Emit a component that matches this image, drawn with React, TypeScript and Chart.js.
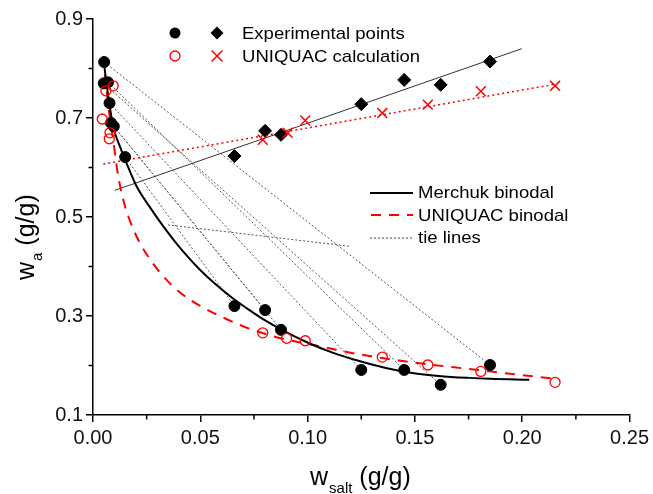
import React, { useEffect, useRef } from "react";
import { Chart, registerables } from "chart.js";
Chart.register(...registerables);

// ---- data ----
const xTickValues = [0, 0.05, 0.1, 0.15, 0.2, 0.25];
const xMinorTicks = [0.025, 0.075, 0.125, 0.175, 0.225];
const yTickValues = [0.1, 0.3, 0.5, 0.7, 0.9];
const yMinorTicks = [0.2, 0.4, 0.6, 0.8];

// experimental binodal / phase compositions (filled circles)
const expCircleX = [0.0052, 0.005, 0.007, 0.0077, 0.0084, 0.0097, 0.015, 0.0659, 0.0802, 0.0876, 0.125, 0.145, 0.162, 0.185];
const expCircleY = [0.813, 0.77, 0.772, 0.73, 0.69, 0.683, 0.621, 0.32, 0.312, 0.272, 0.191, 0.191, 0.161, 0.201];

// experimental points (diamonds)
const expDiamondX = [0.0659, 0.0802, 0.0876, 0.125, 0.145, 0.162, 0.185];
const expDiamondY = [0.623, 0.674, 0.666, 0.728, 0.777, 0.767, 0.814];

// UNIQUAC calculation (open circles)
const calcCircleX = [0.0043, 0.006, 0.0094, 0.0079, 0.0076, 0.0791, 0.0902, 0.0989, 0.1348, 0.156, 0.1807, 0.2153];
const calcCircleY = [0.698, 0.755, 0.765, 0.67, 0.658, 0.266, 0.255, 0.25, 0.217, 0.201, 0.188, 0.166];

// UNIQUAC calculation (crosses)
const calcCrossX = [0.0791, 0.0907, 0.0989, 0.1348, 0.156, 0.1807, 0.2153];
const calcCrossY = [0.656, 0.67, 0.695, 0.71, 0.727, 0.754, 0.765];

// trend lines through diamonds / crosses
const expTrendX = [0.0102, 0.1998];
const expTrendY = [0.554, 0.84];
const calcTrendX = [0.0048, 0.215];
const calcTrendY = [0.607, 0.768];

// Merchuk binodal
const merchukX = [0.005, 0.0071, 0.0094, 0.0125, 0.0156, 0.0203, 0.0265, 0.0326, 0.0381, 0.0435, 0.0497, 0.0574, 0.0651, 0.0729, 0.0806, 0.0884, 0.1007, 0.1116, 0.1224, 0.1364, 0.1487, 0.1611, 0.175, 0.1851, 0.2033];
const merchukY = [0.814, 0.744, 0.683, 0.643, 0.609, 0.562, 0.52, 0.482, 0.451, 0.423, 0.394, 0.363, 0.336, 0.312, 0.29, 0.271, 0.245, 0.226, 0.211, 0.195, 0.185, 0.179, 0.175, 0.173, 0.171];

// UNIQUAC binodal
const uniquacX = [0.0048, 0.006, 0.0079, 0.0094, 0.011, 0.0133, 0.0164, 0.0214, 0.0265, 0.0326, 0.0404, 0.0497, 0.0621, 0.0744, 0.0884, 0.1007, 0.11, 0.1162, 0.1348, 0.155, 0.175, 0.189, 0.2153];
const uniquacY = [0.825, 0.77, 0.697, 0.656, 0.603, 0.549, 0.502, 0.451, 0.415, 0.381, 0.348, 0.321, 0.294, 0.272, 0.254, 0.243, 0.235, 0.229, 0.215, 0.203, 0.193, 0.186, 0.173];

// tie lines
const tieStartX = [0.0052, 0.005, 0.007, 0.0077, 0.0084, 0.0097, 0.015, 0.035];
const tieStartY = [0.813, 0.77, 0.772, 0.73, 0.69, 0.683, 0.621, 0.484];
const tieEndX = [0.185, 0.162, 0.145, 0.125, 0.0876, 0.0802, 0.0659, 0.1193];
const tieEndY = [0.201, 0.161, 0.191, 0.191, 0.272, 0.312, 0.32, 0.441];

const FONT = "'Liberation Sans', Arial, Helvetica, sans-serif";

const pts = (xs: number[], ys: number[]) => xs.map((x, i) => ({ x, y: ys[i] }));

function stretchText(ctx: CanvasRenderingContext2D, text: string, x: number, y: number, sx: number) {
  ctx.save();
  ctx.translate(x, y);
  ctx.scale(sx, 1);
  ctx.fillText(text, 0, 0);
  ctx.restore();
  return ctx.measureText(text).width * sx;
}

const decorPlugin = {
  id: "decor",
  afterDraw(chart: any) {
    const ctx: CanvasRenderingContext2D = chart.ctx;
    const xs = chart.scales.x;
    const ys = chart.scales.y;
    ctx.save();
    // minor ticks
    ctx.strokeStyle = "#000";
    ctx.lineWidth = 1.5;
    ctx.beginPath();
    xMinorTicks.forEach((v) => {
      const px = xs.getPixelForValue(v);
      ctx.moveTo(px, ys.bottom);
      ctx.lineTo(px, ys.bottom + 4.5);
    });
    yMinorTicks.forEach((v) => {
      const py = ys.getPixelForValue(v);
      ctx.moveTo(xs.left, py);
      ctx.lineTo(xs.left - 4.5, py);
    });
    ctx.stroke();

    // axis titles
    ctx.fillStyle = "#000";
    ctx.textBaseline = "alphabetic";
    ctx.textAlign = "left";
    // x title
    let cx = 310;
    ctx.font = `25px ${FONT}`;
    cx += stretchText(ctx, "w", cx, 485, 1.0);
    ctx.font = `15px ${FONT}`;
    cx += stretchText(ctx, "salt", cx + 1, 493, 1.0) + 1;
    ctx.font = `25px ${FONT}`;
    stretchText(ctx, " (g/g)", cx, 485, 1.0);
    // y title
    ctx.save();
    ctx.translate(34, 280);
    ctx.rotate(-Math.PI / 2);
    let cy = 0;
    ctx.font = `25px ${FONT}`;
    cy += stretchText(ctx, "w", cy, 0, 1.0);
    ctx.font = `15px ${FONT}`;
    cy += stretchText(ctx, "a", cy + 1, 8, 1.0) + 1;
    ctx.font = `25px ${FONT}`;
    stretchText(ctx, " (g/g)", cy, 0, 1.0);
    ctx.restore();

    // legend 1
    const lf = `17px ${FONT}`;
    ctx.font = lf;
    ctx.textBaseline = "middle";
    // row 1
    ctx.fillStyle = "#000";
    ctx.beginPath();
    ctx.arc(175, 33, 5.5, 0, Math.PI * 2);
    ctx.fill();
    ctx.beginPath();
    ctx.moveTo(217, 33 - 6.5);
    ctx.lineTo(217 + 6.5, 33);
    ctx.lineTo(217, 33 + 6.5);
    ctx.lineTo(217 - 6.5, 33);
    ctx.closePath();
    ctx.fill();
    stretchText(ctx, "Experimental points", 242, 34, 1.09);
    // row 2
    ctx.strokeStyle = "#f00";
    ctx.lineWidth = 1.3;
    ctx.beginPath();
    ctx.arc(175, 56, 5, 0, Math.PI * 2);
    ctx.stroke();
    ctx.lineWidth = 1.5;
    ctx.beginPath();
    ctx.moveTo(217 - 5.5, 56 - 5.5);
    ctx.lineTo(217 + 5.5, 56 + 5.5);
    ctx.moveTo(217 + 5.5, 56 - 5.5);
    ctx.lineTo(217 - 5.5, 56 + 5.5);
    ctx.stroke();
    ctx.fillStyle = "#000";
    stretchText(ctx, "UNIQUAC calculation", 242, 57, 1.09);

    // legend 2
    ctx.strokeStyle = "#000";
    ctx.lineWidth = 2;
    ctx.setLineDash([]);
    ctx.beginPath();
    ctx.moveTo(370, 193);
    ctx.lineTo(413, 193);
    ctx.stroke();
    ctx.strokeStyle = "#f00";
    ctx.setLineDash([10, 8]);
    ctx.beginPath();
    ctx.moveTo(371, 215);
    ctx.lineTo(413, 215);
    ctx.stroke();
    ctx.strokeStyle = "#444";
    ctx.lineWidth = 1;
    ctx.setLineDash([2, 2]);
    ctx.beginPath();
    ctx.moveTo(370, 238);
    ctx.lineTo(413, 238);
    ctx.stroke();
    ctx.setLineDash([]);
    ctx.fillStyle = "#000";
    stretchText(ctx, "Merchuk binodal", 418, 193, 1.09);
    stretchText(ctx, "UNIQUAC binodal", 418, 216, 1.09);
    stretchText(ctx, "tie lines", 418, 238, 1.09);
    ctx.restore();
  },
};

export default function App() {
  const ref = useRef<HTMLCanvasElement | null>(null);
  useEffect(() => {
    if (!ref.current) return;
    const tieSets = tieStartX.map((_, i) => ({
      data: [
        { x: tieStartX[i], y: tieStartY[i] },
        { x: tieEndX[i], y: tieEndY[i] },
      ],
      showLine: true,
      borderColor: "#555",
      borderWidth: 1,
      borderDash: [2, 2],
      pointRadius: 0,
      order: 10,
    }));
    const chart = new Chart(ref.current, {
      type: "scatter",
      data: {
        datasets: [
          ...tieSets,
          {
            data: pts(expTrendX, expTrendY),
            showLine: true,
            borderColor: "#333",
            borderWidth: 1,
            pointRadius: 0,
            order: 8,
          },
          {
            data: pts(calcTrendX, calcTrendY),
            showLine: true,
            borderColor: "#f00",
            borderWidth: 1.5,
            borderDash: [2, 3],
            pointRadius: 0,
            order: 8,
          },
          {
            data: pts(merchukX, merchukY),
            showLine: true,
            borderColor: "#000",
            borderWidth: 2,
            pointRadius: 0,
            cubicInterpolationMode: "monotone",
            order: 6,
          },
          {
            data: pts(uniquacX, uniquacY),
            showLine: true,
            borderColor: "#f00",
            borderWidth: 2,
            borderDash: [10, 8],
            pointRadius: 0,
            cubicInterpolationMode: "monotone",
            order: 6,
          },
          {
            data: pts(expCircleX, expCircleY),
            pointStyle: "circle",
            pointRadius: 5.5,
            backgroundColor: "#000",
            borderColor: "#000",
            borderWidth: 1,
            order: 2,
          },
          {
            data: pts(expDiamondX, expDiamondY),
            pointStyle: "rectRot",
            pointRadius: 6.5,
            backgroundColor: "#000",
            borderColor: "#000",
            borderWidth: 1,
            order: 2,
          },
          {
            data: pts(calcCircleX, calcCircleY),
            pointStyle: "circle",
            pointRadius: 5,
            backgroundColor: "rgba(255,255,255,0)",
            borderColor: "#f00",
            borderWidth: 1.3,
            order: 1,
          },
          {
            data: pts(calcCrossX, calcCrossY),
            pointStyle: "crossRot",
            pointRadius: 7,
            borderColor: "#f00",
            borderWidth: 1.5,
            order: 1,
          },
        ] as any,
      },
      options: {
        responsive: false,
        animation: false,
        devicePixelRatio: 1,
        layout: { padding: { top: 19, right: 21, left: 0, bottom: 0 } },
        plugins: { legend: { display: false }, tooltip: { enabled: false } },
        scales: {
          x: {
            type: "linear",
            min: 0,
            max: 0.25,
            afterBuildTicks: (s: any) => {
              s.ticks = xTickValues.map((v) => ({ value: v }));
            },
            afterFit: (s: any) => {
              s.height = 79;
            },
            grid: { display: true, drawOnChartArea: false, drawTicks: true, tickLength: 7, color: "#000", lineWidth: 1.5 },
            border: { display: true, color: "#000", width: 1.5 },
            ticks: {
              color: "#111",
              font: { family: FONT, size: 20 },
              padding: 4,
              maxRotation: 0,
              autoSkip: false,
              callback: (v: any) => Number(v).toFixed(2),
            },
          },
          y: {
            type: "linear",
            min: 0.1,
            max: 0.9,
            afterBuildTicks: (s: any) => {
              s.ticks = yTickValues.map((v) => ({ value: v }));
            },
            afterFit: (s: any) => {
              s.width = 93;
            },
            grid: { display: true, drawOnChartArea: false, drawTicks: true, tickLength: 7, color: "#000", lineWidth: 1.5 },
            border: { display: true, color: "#000", width: 1.5 },
            ticks: {
              color: "#111",
              font: { family: FONT, size: 20 },
              padding: 3,
              autoSkip: false,
              callback: (v: any) => Number(v).toFixed(1),
            },
          },
        },
      },
      plugins: [decorPlugin],
    });
    return () => chart.destroy();
  }, []);
  return (
    <div style={{ position: "fixed", left: 0, top: 0, width: 653, height: 494, background: "#fff" }}>
      <canvas ref={ref} width={653} height={494} style={{ display: "block" }} />
    </div>
  );
}
